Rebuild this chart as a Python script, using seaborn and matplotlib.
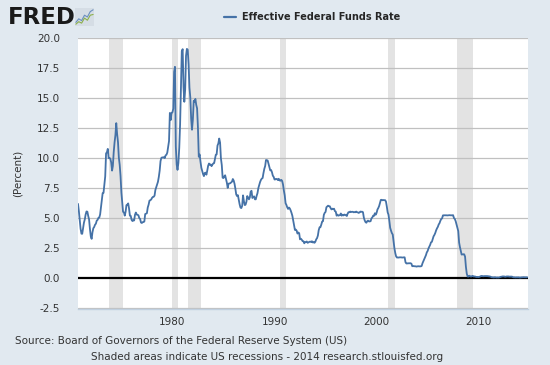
import matplotlib
matplotlib.use("Agg")
import matplotlib.pyplot as plt
from matplotlib.lines import Line2D
import seaborn as sns
import pandas as pd

# monthly effective federal funds rate, Oct 1970 .. Oct 2014
start_month = "1970-10-01"
fedfunds = [
    6.20, 5.60, 4.90,
    4.14, 3.72, 3.71, 4.16, 4.63, 4.91, 5.31, 5.57, 5.55, 5.20, 4.91, 4.14,
    3.50, 3.29, 3.83, 4.17, 4.27, 4.46, 4.55, 4.80, 4.87, 5.04, 5.06, 5.33,
    5.94, 6.58, 7.09, 7.12, 7.84, 8.49, 10.40, 10.50, 10.78, 10.01, 10.03, 9.95,
    9.65, 8.97, 9.35, 10.51, 11.31, 11.93, 12.92, 12.01, 11.34, 10.06, 9.45, 8.53,
    7.13, 6.24, 5.54, 5.49, 5.22, 5.55, 6.10, 6.14, 6.24, 5.82, 5.22, 5.20,
    4.87, 4.77, 4.84, 4.82, 5.29, 5.48, 5.31, 5.29, 5.25, 5.02, 4.95, 4.65,
    4.61, 4.68, 4.69, 4.73, 5.35, 5.39, 5.42, 5.90, 6.14, 6.47, 6.51, 6.56,
    6.70, 6.78, 6.79, 6.89, 7.36, 7.60, 7.81, 8.04, 8.45, 8.96, 9.76, 10.03,
    10.07, 10.06, 10.09, 10.01, 10.24, 10.29, 10.47, 10.94, 11.43, 13.77, 13.18, 13.78,
    13.82, 14.13, 17.19, 17.61, 10.98, 9.47, 9.03, 9.61, 10.87, 12.81, 15.85, 18.90,
    19.08, 15.93, 14.70, 15.72, 18.52, 19.10, 19.04, 17.82, 15.87, 15.08, 13.31, 12.37,
    13.22, 14.78, 14.68, 14.94, 14.45, 14.15, 12.59, 10.12, 10.31, 9.71, 9.20, 8.95,
    8.68, 8.51, 8.77, 8.80, 8.63, 8.98, 9.37, 9.56, 9.45, 9.48, 9.34, 9.47,
    9.56, 9.59, 9.91, 10.29, 10.32, 11.06, 11.23, 11.64, 11.30, 9.99, 9.43, 8.38,
    8.35, 8.50, 8.58, 8.27, 7.97, 7.53, 7.88, 7.90, 7.92, 7.99, 8.05, 8.27,
    8.14, 7.86, 7.48, 6.99, 6.85, 6.92, 6.56, 6.17, 5.89, 5.85, 6.04, 6.91,
    6.43, 6.10, 6.13, 6.37, 6.85, 6.73, 6.58, 6.73, 7.22, 7.29, 6.69, 6.77,
    6.83, 6.58, 6.58, 6.87, 7.09, 7.51, 7.75, 8.01, 8.19, 8.30, 8.35, 8.76,
    9.12, 9.36, 9.85, 9.84, 9.81, 9.53, 9.24, 8.99, 9.02, 8.84, 8.55, 8.45,
    8.23, 8.24, 8.28, 8.26, 8.18, 8.29, 8.15, 8.13, 8.20, 8.11, 7.81, 7.31,
    6.91, 6.25, 6.12, 5.91, 5.78, 5.90, 5.82, 5.66, 5.45, 5.21, 4.81, 4.43,
    4.03, 4.06, 3.98, 3.73, 3.82, 3.76, 3.25, 3.30, 3.22, 3.10, 3.09, 2.92,
    3.02, 3.03, 3.07, 2.96, 3.00, 3.04, 3.06, 3.03, 3.09, 2.99, 3.02, 2.96,
    3.05, 3.25, 3.34, 3.56, 4.01, 4.25, 4.26, 4.47, 4.73, 4.76, 5.29, 5.45,
    5.53, 5.92, 5.98, 6.05, 6.01, 6.00, 5.85, 5.74, 5.80, 5.76, 5.80, 5.60,
    5.56, 5.22, 5.31, 5.22, 5.24, 5.27, 5.40, 5.22, 5.30, 5.24, 5.31, 5.29,
    5.25, 5.19, 5.39, 5.51, 5.50, 5.56, 5.52, 5.54, 5.54, 5.50, 5.52, 5.50,
    5.56, 5.51, 5.49, 5.45, 5.49, 5.56, 5.54, 5.55, 5.51, 5.07, 4.83, 4.68,
    4.63, 4.76, 4.81, 4.74, 4.74, 4.76, 4.99, 5.07, 5.22, 5.20, 5.42, 5.30,
    5.45, 5.73, 5.85, 6.02, 6.27, 6.53, 6.54, 6.50, 6.52, 6.51, 6.51, 6.40,
    5.98, 5.49, 5.31, 4.80, 4.21, 3.97, 3.77, 3.65, 3.07, 2.49, 2.09, 1.82,
    1.73, 1.74, 1.73, 1.75, 1.75, 1.75, 1.73, 1.74, 1.75, 1.75, 1.34, 1.24,
    1.24, 1.26, 1.25, 1.26, 1.26, 1.22, 1.01, 1.03, 1.01, 1.01, 1.00, 0.98,
    1.00, 1.01, 1.00, 1.00, 1.00, 1.03, 1.26, 1.43, 1.61, 1.76, 1.93, 2.16,
    2.28, 2.50, 2.63, 2.79, 3.00, 3.04, 3.26, 3.50, 3.62, 3.78, 4.00, 4.16,
    4.29, 4.49, 4.59, 4.79, 4.94, 4.99, 5.24, 5.25, 5.25, 5.25, 5.25, 5.24,
    5.25, 5.26, 5.26, 5.25, 5.25, 5.25, 5.26, 5.02, 4.94, 4.76, 4.49, 4.24,
    3.94, 2.98, 2.61, 2.28, 1.98, 2.00, 2.01, 2.00, 1.81, 0.97, 0.39, 0.16,
    0.15, 0.22, 0.18, 0.15, 0.18, 0.21, 0.16, 0.16, 0.15, 0.12, 0.12, 0.12,
    0.11, 0.13, 0.16, 0.20, 0.20, 0.18, 0.18, 0.19, 0.19, 0.19, 0.19, 0.18,
    0.17, 0.16, 0.14, 0.10, 0.09, 0.09, 0.07, 0.10, 0.08, 0.07, 0.08, 0.07,
    0.08, 0.10, 0.13, 0.14, 0.16, 0.16, 0.16, 0.13, 0.14, 0.16, 0.16, 0.16,
    0.14, 0.15, 0.14, 0.15, 0.11, 0.09, 0.09, 0.08, 0.08, 0.09, 0.08, 0.09,
    0.07, 0.07, 0.08, 0.09, 0.09, 0.10, 0.09, 0.09, 0.09, 0.09,
]

recession_starts = ["1973-11-01", "1980-01-01", "1981-07-01", "1990-07-01", "2001-03-01", "2007-12-01"]
recession_ends = ["1975-03-01", "1980-07-01", "1982-11-01", "1991-03-01", "2001-11-01", "2009-06-01"]

y_ticks = [-2.5, 0.0, 2.5, 5.0, 7.5, 10.0, 12.5, 15.0, 17.5, 20.0]
x_tick_years = [1980, 1990, 2000, 2010]

series_name = "Effective Federal Funds Rate"
source_text = "Source: Board of Governors of the Federal Reserve System (US)"
note_text = "Shaded areas indicate US recessions - 2014 research.stlouisfed.org"

df = pd.DataFrame({
    "date": pd.date_range(start_month, periods=len(fedfunds), freq="MS"),
    "rate": fedfunds,
})

sns.set_style("white")
plt.rcParams["font.family"] = ["DejaVu Sans"]

bg = "#e1e9f0"
line_color = "#4572a7"
text_color = "#333333"

fig = plt.figure(figsize=(5.5, 3.65), dpi=100, facecolor=bg)
ax = fig.add_axes([78 / 550, 1 - 309 / 365, 450 / 550, 271.5 / 365])
ax.set_facecolor("white")

for s, e in zip(recession_starts, recession_ends):
    ax.axvspan(pd.Timestamp(s), pd.Timestamp(e), color="#e3e3e3", lw=0, zorder=0)

for t in y_ticks:
    if t != 0:
        ax.axhline(t, color="#c0c0c0", lw=0.9, zorder=1)
ax.axhline(0, color="black", lw=1.6, zorder=2)

sns.lineplot(data=df, x="date", y="rate", ax=ax, color=line_color, lw=1.3, zorder=3)

ax.set_xlim(df["date"].iloc[0], df["date"].iloc[-1] + pd.DateOffset(months=1))
ax.set_ylim(-2.55, 20.05)
ax.set_yticks(y_ticks)
ax.set_yticklabels([f"{t:.1f}" for t in y_ticks], fontsize=7.5, color=text_color)
ax.set_xticks([pd.Timestamp(f"{y}-01-01") for y in x_tick_years])
ax.set_xticklabels([str(y) for y in x_tick_years], fontsize=7.5, color=text_color)
ax.tick_params(axis="y", length=0, pad=13)
ax.tick_params(axis="x", length=4, direction="in", color="#c0d0e0", pad=6)
ax.set_xlabel("")
ax.set_ylabel("(Percent)", fontsize=7.5, color=text_color, labelpad=10)

for side in ["top", "right", "left"]:
    ax.spines[side].set_visible(False)
ax.spines["bottom"].set_color("#c0d0e0")
ax.spines["bottom"].set_linewidth(1)

# legend / title at the top
handle = Line2D([], [], color=line_color, lw=1.6)
fig.legend([handle], [series_name], loc="center", bbox_to_anchor=(312 / 550, 1 - 17 / 365),
           frameon=False, handlelength=1.25, handletextpad=0.55,
           prop={"weight": "bold", "size": 7.0})

# FRED logo
fig.text(8 / 550, 1 - 17 / 365, "FRED", fontsize=16.5, fontweight="heavy", color="#1a1a1a",
         va="center", ha="left")
icon = fig.add_axes([75 / 550, 1 - 26 / 365, 19 / 550, 18 / 365])
icon.set_facecolor("#d5dde5")
icon.plot([0, 1, 2, 3, 4, 5, 6], [1, 2, 1.5, 3, 2.5, 4, 4.5], color="#6a8fbf", lw=0.8)
icon.plot([0, 1, 2, 3, 4, 5, 6], [0.5, 1.2, 0.8, 2.2, 1.6, 3, 3.2], color="#8cb04a", lw=0.8)
icon.set_xlim(-0.3, 6.3)
icon.set_ylim(0, 5)
icon.set_xticks([])
icon.set_yticks([])
for sp in icon.spines.values():
    sp.set_visible(False)

fig.text(15 / 550, 1 - 341 / 365, source_text, fontsize=7.5, color=text_color, va="center", ha="left")
fig.text(267 / 550, 1 - 357 / 365, note_text, fontsize=7.5, color=text_color, va="center", ha="center")

fig.savefig("out.png", dpi=100, facecolor=bg)
